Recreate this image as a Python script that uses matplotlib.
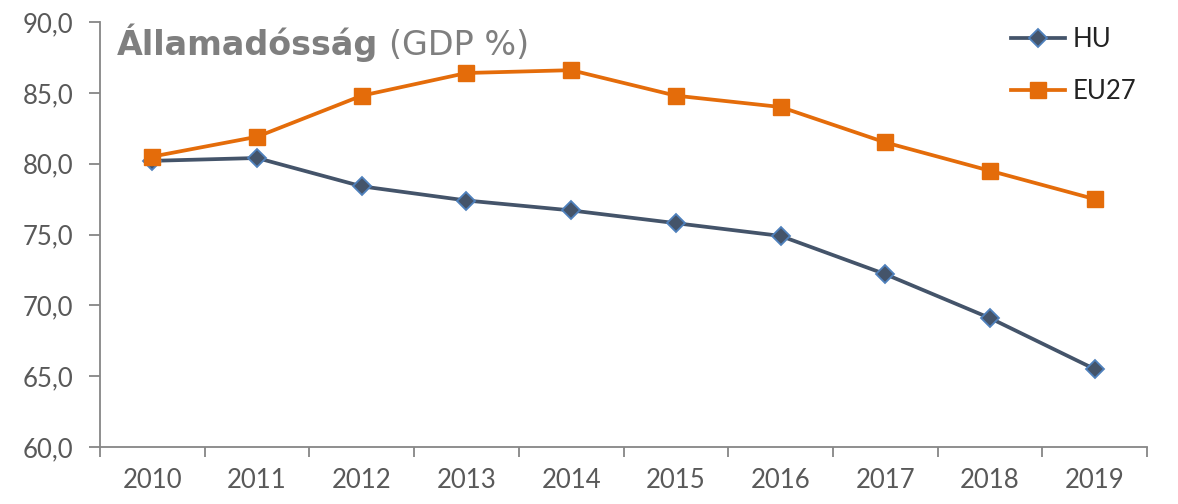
import matplotlib
matplotlib.use("Agg")
import matplotlib.pyplot as plt
from matplotlib.ticker import FuncFormatter

years = ["2010", "2011", "2012", "2013", "2014", "2015", "2016", "2017", "2018", "2019"]
hu = [80.2, 80.4, 78.4, 77.4, 76.7, 75.8, 74.9, 72.2, 69.1, 65.5]
eu27 = [80.5, 81.9, 84.8, 86.4, 86.6, 84.8, 84.0, 81.5, 79.5, 77.5]

plt.rcParams['font.family'] = ['Lato', 'DejaVu Sans']

W, H = 1178, 504
fig = plt.figure(figsize=(W / 100, H / 100), dpi=100)
ax = fig.add_axes([100 / W, (H - 447) / H, (1147 - 100) / W, (447 - 22) / H])

x = list(range(len(years)))
ax.plot(x, hu, color="#44546A", lw=2.7, marker="D", markersize=9.5,
        markerfacecolor="#44546A", markeredgecolor="#4F81BD", markeredgewidth=1.3,
        label="HU", zorder=3)
ax.plot(x, eu27, color="#E46C0A", lw=2.7, marker="s", markersize=12,
        markerfacecolor="#E46C0A", markeredgecolor="#E46C0A", label="EU27", zorder=4)

ax.set_xlim(-0.5, len(years) - 0.5)
ax.set_ylim(60, 90)
ax.set_yticks([60, 65, 70, 75, 80, 85, 90])
ax.yaxis.set_major_formatter(FuncFormatter(lambda v, p: f"{v:.1f}".replace(".", ",")))
ax.set_xticks(x)
ax.set_xticklabels(years)
ax.set_xticks([i - 0.5 for i in range(len(years) + 1)], minor=True)
ax.tick_params(axis="x", which="major", length=0, pad=15, labelsize=18.5, labelcolor="#595959")
ax.tick_params(axis="x", which="minor", length=7, width=1.3, color="#868686", direction="out")
ax.tick_params(axis="y", length=8, width=1.3, color="#868686", pad=11, labelsize=18.5, labelcolor="#595959")

for s in ["top", "right"]:
    ax.spines[s].set_visible(False)
for s in ["left", "bottom"]:
    ax.spines[s].set_color("#868686")
    ax.spines[s].set_linewidth(1.3)

t1 = fig.text(117 / W, 1 - 55 / H, "Államadósság", fontsize=24, fontweight="bold",
              color="#7F7F7F", family="DejaVu Sans")
fig.canvas.draw()
bb = t1.get_window_extent()
fig.text((bb.x1 + 11) / W, 1 - 55 / H, "(GDP %)", fontsize=24, color="#7F7F7F", family="DejaVu Sans")

leg = ax.legend(loc="upper left", bbox_to_anchor=(988 / W, 1 - 4 / H), bbox_transform=fig.transFigure,
                frameon=False, fontsize=18.5, handlelength=2.1, labelspacing=1.05, handletextpad=0.3,
                labelcolor="#222222")

fig.savefig("out.png", dpi=100)
